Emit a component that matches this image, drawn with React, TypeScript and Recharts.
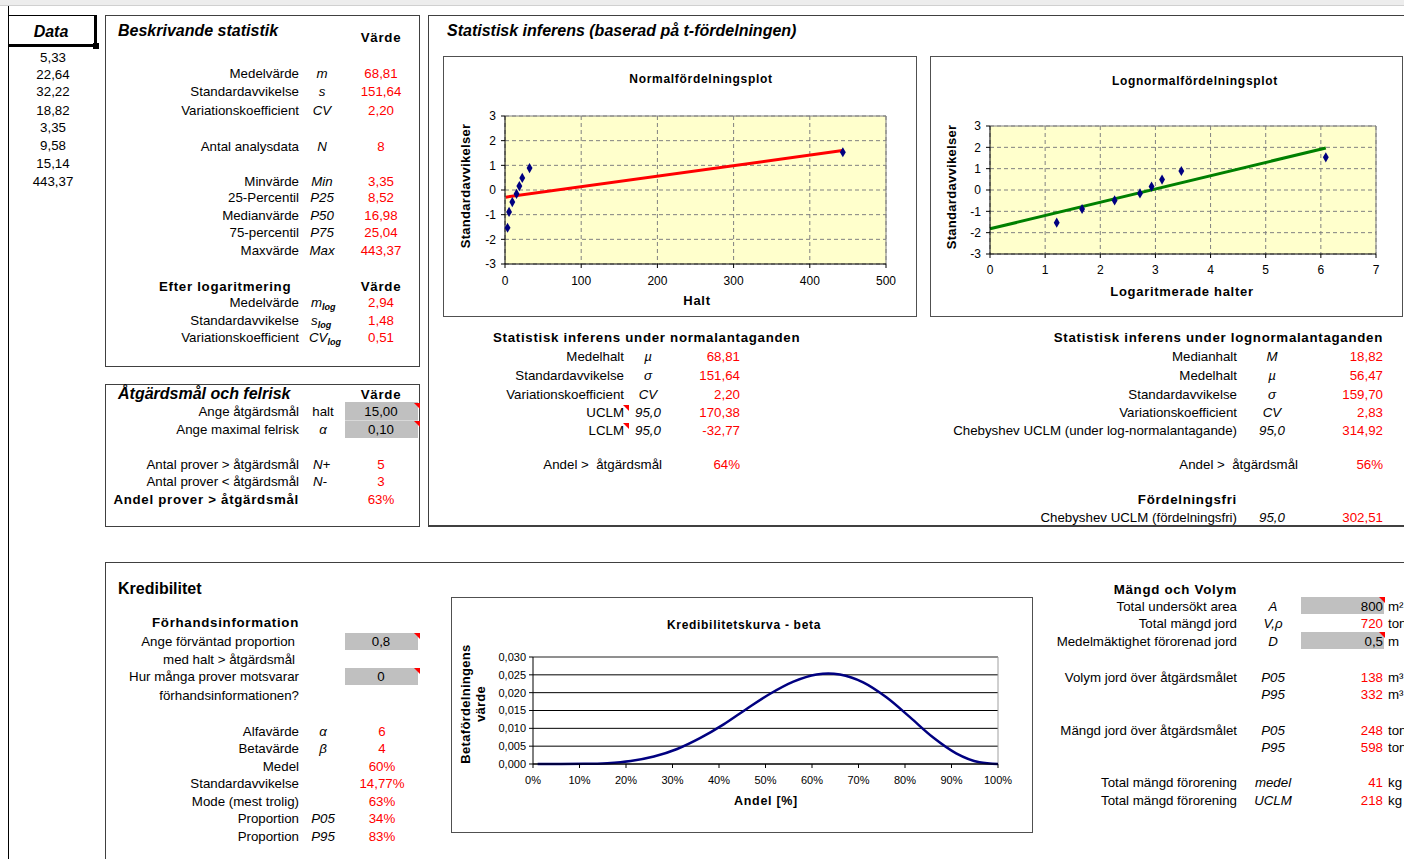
import React from 'react';
import {
  ComposedChart,
  Line,
  Scatter,
  XAxis,
  YAxis,
  ZAxis,
  CartesianGrid,
  ReferenceLine,
} from 'recharts';

const W = 1404;
const H = 859;
const FONT = '"Liberation Sans", Arial, Helvetica, sans-serif';
const RED = '#ff0000';
const NAVY = '#000080';

// kolumnen "Data"
const sampleValues = [5.33, 22.64, 32.22, 18.82, 3.35, 9.58, 15.14, 443.37];

// sannolikhetsplottar (sorterade halter mot standardavvikelser)
const sortedHalt = [3.35, 5.33, 9.58, 15.14, 18.82, 22.64, 32.22, 443.37];
const logHalt = [1.21, 1.67, 2.26, 2.72, 2.93, 3.12, 3.47, 6.09];
const zScores = [-1.53, -0.89, -0.49, -0.16, 0.16, 0.49, 0.89, 1.53];
const normFitX = [1, 443];
const normFitY = [-0.29, 1.6];
const logFitX = [0, 6.09];
const logFitY = [-1.82, 1.97];
const normTicksX = [0, 100, 200, 300, 400, 500];
const logTicksX = [0, 1, 2, 3, 4, 5, 6, 7];
const zTicks = [-3, -2, -1, 0, 1, 2, 3];

// kredibilitetskurva - beta
const betaAndel = [1, 6, 11, 16, 21, 26, 31, 36, 41, 46, 51, 56, 61, 63.5, 66, 71, 76, 81, 86, 91, 96, 100];
const betaVarde = [
  0, 0.0, 0.00004, 0.00024, 0.00083, 0.00208, 0.0042, 0.0073, 0.0111, 0.0155, 0.0197,
  0.0231, 0.0251, 0.0254, 0.0251, 0.0229, 0.0187, 0.0132, 0.0075, 0.003, 0.0005, 0,
];
const betaTicksX = [0, 10, 20, 30, 40, 50, 60, 70, 80, 90, 100];
const betaTicksY = [0, 0.005, 0.01, 0.015, 0.02, 0.025, 0.03];

const sv = (n: number, d = 2) => n.toFixed(d).replace('.', ',');

type TProps = {
  x: number;
  y: number;
  a?: 'l' | 'r' | 'c';
  b?: boolean;
  i?: boolean;
  c?: string;
  s?: number;
  children: React.ReactNode;
};

function T({ x, y, a = 'l', b, i, c, s = 13.3, children }: TProps) {
  const style: React.CSSProperties = {
    position: 'absolute',
    top: y - 9,
    height: 18,
    lineHeight: '18px',
    whiteSpace: 'nowrap',
    fontSize: s,
    fontWeight: b ? 'bold' : 'normal',
    fontStyle: i ? 'italic' : 'normal',
    color: c || '#000',
    // Excel ritar fet text något bredare
    letterSpacing: b && s < 15 ? 0.7 : 0,
  };
  if (a === 'l') style.left = x;
  if (a === 'r') style.right = W - x;
  if (a === 'c') {
    style.left = x - 150;
    style.width = 300;
    style.textAlign = 'center';
  }
  return <div style={style}>{children}</div>;
}

function Box({ l, t, w, h, bw = 1, color = '#404040', bg }: { l: number; t: number; w: number; h: number; bw?: number; color?: string; bg?: string }) {
  return (
    <div
      style={{
        position: 'absolute',
        left: l,
        top: t,
        width: w,
        height: h,
        border: `${bw}px solid ${color}`,
        boxSizing: 'border-box',
        background: bg,
      }}
    />
  );
}

function Mark({ x, y }: { x: number; y: number }) {
  // röd kommentarsmarkering
  return (
    <div
      style={{
        position: 'absolute',
        left: x - 6,
        top: y,
        width: 0,
        height: 0,
        borderTop: `6px solid ${RED}`,
        borderLeft: '6px solid transparent',
      }}
    />
  );
}

function VTitle({ x, y, children }: { x: number; y: number; children: React.ReactNode }) {
  return (
    <div
      style={{
        position: 'absolute',
        left: x - 100,
        top: y - 9,
        width: 200,
        height: 18,
        lineHeight: '18px',
        textAlign: 'center',
        fontWeight: 'bold',
        fontSize: 13,
        letterSpacing: 0.3,
        transform: 'rotate(-90deg)',
        whiteSpace: 'nowrap',
      }}
    >
      {children}
    </div>
  );
}

const tickStyle = { fontSize: 12, fill: '#000', fontFamily: FONT };

function NormalPlot() {
  const pts = sortedHalt.map((x, i) => ({ x, y: zScores[i] }));
  const fit = normFitX.map((x, i) => ({ x, y: normFitY[i] }));
  return (
    <ComposedChart width={474} height={261} margin={{ top: 60, right: 31, bottom: 23, left: 32 }}>
      <CartesianGrid stroke="#808080" strokeDasharray="4 3" fill="#ffffcc" fillOpacity={1} />
      <XAxis
        type="number"
        dataKey="x"
        domain={[0, 500]}
        ticks={normTicksX}
        interval={0}
        height={30}
        tickSize={4}
        tickMargin={8}
        axisLine={{ stroke: '#000' }}
        tickLine={{ stroke: '#000' }}
        tick={tickStyle}
      />
      <YAxis
        type="number"
        dataKey="y"
        domain={[-3, 3]}
        ticks={zTicks}
        interval={0}
        width={30}
        tickSize={4}
        tickMargin={5}
        axisLine={{ stroke: '#000' }}
        tickLine={{ stroke: '#000' }}
        tick={tickStyle}
      />
      <ZAxis range={[30, 30]} />
      <ReferenceLine y={3} stroke="#808080" />
      <ReferenceLine x={500} stroke="#808080" />
      <Line data={fit} dataKey="y" type="linear" stroke={RED} strokeWidth={3} dot={false} isAnimationActive={false} />
      <Scatter data={pts} fill={NAVY} shape="diamond" isAnimationActive={false} />
    </ComposedChart>
  );
}

function LogPlot() {
  const pts = logHalt.map((x, i) => ({ x, y: zScores[i] }));
  const fit = logFitX.map((x, i) => ({ x, y: logFitY[i] }));
  return (
    <ComposedChart width={473} height={261} margin={{ top: 70, right: 27, bottom: 33, left: 30 }}>
      <CartesianGrid stroke="#808080" strokeDasharray="4 3" fill="#ffffcc" fillOpacity={1} />
      <XAxis
        type="number"
        dataKey="x"
        domain={[0, 7]}
        ticks={logTicksX}
        interval={0}
        height={30}
        tickSize={4}
        tickMargin={7}
        axisLine={{ stroke: '#000' }}
        tickLine={{ stroke: '#000' }}
        tick={tickStyle}
      />
      <YAxis
        type="number"
        dataKey="y"
        domain={[-3, 3]}
        ticks={zTicks}
        interval={0}
        width={30}
        tickSize={4}
        tickMargin={5}
        axisLine={{ stroke: '#000' }}
        tickLine={{ stroke: '#000' }}
        tick={tickStyle}
      />
      <ZAxis range={[30, 30]} />
      <ReferenceLine y={3} stroke="#808080" />
      <ReferenceLine x={7} stroke="#808080" />
      <Line data={fit} dataKey="y" type="linear" stroke="#008000" strokeWidth={3} dot={false} isAnimationActive={false} />
      <Scatter data={pts} fill={NAVY} shape="diamond" isAnimationActive={false} />
    </ComposedChart>
  );
}

function BetaPlot() {
  const data = betaAndel.map((x, i) => ({ x, y: betaVarde[i] }));
  return (
    <ComposedChart width={581} height={236} data={data} margin={{ top: 60, right: 34, bottom: 39, left: 42 }}>
      <CartesianGrid stroke="#000" vertical={false} />
      <XAxis
        type="number"
        dataKey="x"
        domain={[0, 100]}
        ticks={betaTicksX}
        interval={0}
        height={30}
        tickSize={4}
        tickMargin={8}
        tickFormatter={(v: number) => `${v}%`}
        axisLine={{ stroke: '#000' }}
        tickLine={{ stroke: '#000' }}
        tick={{ ...tickStyle, fontSize: 11 }}
      />
      <YAxis
        type="number"
        dataKey="y"
        domain={[0, 0.03]}
        ticks={betaTicksY}
        interval={0}
        width={40}
        tickSize={4}
        tickMargin={3}
        tickFormatter={(v: number) => sv(v, 3)}
        axisLine={{ stroke: '#000' }}
        tickLine={{ stroke: '#000' }}
        tick={{ ...tickStyle, fontSize: 11 }}
      />
      <ReferenceLine y={0.03} stroke="#a0a0a0" />
      <ReferenceLine x={100} stroke="#a0a0a0" />
      <Line dataKey="y" type="monotone" stroke={NAVY} strokeWidth={2.5} dot={false} isAnimationActive={false} />
    </ComposedChart>
  );
}

function Row({ y, label, sym, val, lx, sx, vx, symLeft }: { y: number; label: string; sym?: React.ReactNode; val: string; lx: number; sx: number; vx: number; symLeft?: boolean }) {
  return (
    <>
      <T x={lx} y={y} a="r">{label}</T>
      {sym != null && (
        <T x={sx} y={y} a={symLeft ? 'l' : 'c'} i>
          {sym}
        </T>
      )}
      <T x={vx} y={y} a="c" c={RED}>{val}</T>
    </>
  );
}

const sub = (s: string) => <span style={{ fontSize: 9, verticalAlign: '-3px', fontWeight: 'bold' }}>{s}</span>;

export default function App() {
  const valueRows: [number, string, string, string][] = [
    [74, 'Medelvärde', 'm', '68,81'],
    [92, 'Standardavvikelse', 's', '151,64'],
    [111, 'Variationskoefficient', 'CV', '2,20'],
    [147, 'Antal analysdata', 'N', '8'],
    [182, 'Minvärde', 'Min', '3,35'],
    [198, '25-Percentil', 'P25', '8,52'],
    [216, 'Medianvärde', 'P50', '16,98'],
    [233, '75-percentil', 'P75', '25,04'],
    [251, 'Maxvärde', 'Max', '443,37'],
  ];
  const dataY = [58, 75, 92, 111, 128, 146, 164, 182];

  const normRows: [number, string, string, string][] = [
    [357, 'Medelhalt', 'µ', '68,81'],
    [376, 'Standardavvikelse', 'σ', '151,64'],
    [395, 'Variationskoefficient', 'CV', '2,20'],
    [413, 'UCLM', '95,0', '170,38'],
    [431, 'LCLM', '95,0', '-32,77'],
  ];
  const logRows: [number, string, string, string][] = [
    [357, 'Medianhalt', 'M', '18,82'],
    [376, 'Medelhalt', 'µ', '56,47'],
    [395, 'Standardavvikelse', 'σ', '159,70'],
    [413, 'Variationskoefficient', 'CV', '2,83'],
    [431, 'Chebyshev UCLM (under log-normalantagande)', '95,0', '314,92'],
  ];
  const kredRows: [number, string, string, string][] = [
    [732, 'Alfavärde', 'α', '6'],
    [749, 'Betavärde', 'β', '4'],
    [767, 'Medel', '', '60%'],
    [784, 'Standardavvikelse', '', '14,77%'],
    [802, 'Mode (mest trolig)', '', '63%'],
    [819, 'Proportion', 'P05', '34%'],
    [837, 'Proportion', 'P95', '83%'],
  ];
  const mangdRows: [number, string, string, string, string][] = [
    [624, 'Total mängd jord', 'V,ρ', '720', 'ton'],
    [678, 'Volym jord över åtgärdsmålet', 'P05', '138', 'm³'],
    [695, '', 'P95', '332', 'm³'],
    [731, 'Mängd jord över åtgärdsmålet', 'P05', '248', 'ton'],
    [748, '', 'P95', '598', 'ton'],
    [783, 'Total mängd förorening', 'medel', '41', 'kg'],
    [801, 'Total mängd förorening', 'UCLM', '218', 'kg'],
  ];

  return (
    <div
      style={{
        position: 'absolute',
        left: 0,
        top: 0,
        width: W,
        height: H,
        overflow: 'hidden',
        background: '#fff',
        fontFamily: FONT,
        fontSize: 13.3,
        color: '#000',
      }}
    >
      {/* kalkylbladets ram */}
      <div style={{ position: 'absolute', left: 0, top: 0, width: W, height: 5, background: '#ededed', borderBottom: '1px solid #d0d0d0' }} />
      <div style={{ position: 'absolute', left: 8, top: 6, width: 1, height: H, background: '#000' }} />

      {/* Data */}
      <div style={{ position: 'absolute', left: 8, top: 15, width: 89, height: 32, borderTop: '1px solid #000', borderRight: '3px solid #000', borderBottom: '3px solid #000', boxSizing: 'border-box' }} />
      <div style={{ position: 'absolute', left: 93, top: 43, width: 6, height: 6, background: '#000' }} />
      <T x={51} y={32} a="c" b i s={16}>Data</T>
      {sampleValues.map((v, k) => (
        <T key={k} x={53} y={dataY[k]} a="c">{sv(v)}</T>
      ))}

      {/* Beskrivande statistik */}
      <Box l={105} t={15} w={315} h={352} />
      <T x={118} y={31} b i s={16}>Beskrivande statistik</T>
      <T x={381} y={38} a="c" b>Värde</T>
      {valueRows.map(([y, l, s, v]) => (
        <Row key={l} y={y} label={l} sym={s} val={v} lx={299} sx={322} vx={381} />
      ))}
      <T x={159} y={287} b>Efter logaritmering</T>
      <T x={381} y={287} a="c" b>Värde</T>
      <Row y={303} label="Medelvärde" sym={<>m{sub('log')}</>} val="2,94" lx={299} sx={311} vx={381} symLeft />
      <Row y={321} label="Standardavvikelse" sym={<>s{sub('log')}</>} val="1,48" lx={299} sx={311} vx={381} symLeft />
      <Row y={338} label="Variationskoefficient" sym={<>CV{sub('log')}</>} val="0,51" lx={299} sx={309} vx={381} symLeft />

      {/* Åtgärdsmål och felrisk */}
      <Box l={105} t={384} w={315} h={143} />
      <div style={{ position: 'absolute', left: 345, top: 402, width: 73, height: 36, background: '#c0c0c0' }} />
      <div style={{ position: 'absolute', left: 345, top: 420, width: 73, height: 1, background: '#d8d8d8' }} />
      <Mark x={420} y={403} />
      <Mark x={420} y={421} />
      <T x={118} y={394} b i s={16}>Åtgärdsmål och felrisk</T>
      <T x={381} y={395} a="c" b>Värde</T>
      <T x={299} y={412} a="r">Ange åtgärdsmål</T>
      <T x={323} y={412} a="c">halt</T>
      <T x={381} y={412} a="c">15,00</T>
      <T x={299} y={430} a="r">Ange maximal felrisk</T>
      <T x={323} y={430} a="c" i>α</T>
      <T x={381} y={430} a="c">0,10</T>
      <T x={299} y={465} a="r">Antal prover &gt; åtgärdsmål</T>
      <T x={313} y={465} i>N+</T>
      <T x={381} y={465} a="c" c={RED}>5</T>
      <T x={299} y={482} a="r">Antal prover &lt; åtgärdsmål</T>
      <T x={313} y={482} i>N-</T>
      <T x={381} y={482} a="c" c={RED}>3</T>
      <T x={299} y={500} a="r" b>Andel prover &gt; åtgärdsmål</T>
      <T x={381} y={500} a="c" c={RED}>63%</T>

      {/* Statistisk inferens */}
      <div style={{ position: 'absolute', left: 428, top: 15, width: 1000, height: 512, borderLeft: '1px solid #404040', borderTop: '1px solid #404040', borderBottom: '2px solid #404040', boxSizing: 'border-box' }} />
      <T x={447} y={31} b i s={16}>Statistisk inferens (baserad på t-fördelningen)</T>

      {/* Normalfördelningsplot */}
      <div style={{ position: 'absolute', left: 443, top: 56 }}>
        <NormalPlot />
      </div>
      <Box l={443} t={56} w={474} h={261} color="#505050" />
      <T x={701} y={79} a="c" b s={12}>Normalfördelningsplot</T>
      <T x={697} y={301} a="c" b s={13}>Halt</T>
      <VTitle x={466} y={186}>Standardavvikelser</VTitle>

      {/* Lognormalfördelningsplot */}
      <div style={{ position: 'absolute', left: 930, top: 56 }}>
        <LogPlot />
      </div>
      <Box l={930} t={56} w={473} h={261} color="#505050" />
      <T x={1195} y={81} a="c" b s={12}>Lognormalfördelningsplot</T>
      <T x={1182} y={292} a="c" b s={13}>Logaritmerade halter</T>
      <VTitle x={952} y={187}>Standardavvikelser</VTitle>

      {/* inferens under normalantaganden */}
      <T x={493} y={338} b>Statistisk inferens under normalantaganden</T>
      {normRows.map(([y, l, s, v]) => (
        <React.Fragment key={l}>
          <T x={624} y={y} a="r">{l}</T>
          <T x={648} y={y} a="c" i>{s}</T>
          <T x={740} y={y} a="r" c={RED}>{v}</T>
        </React.Fragment>
      ))}
      <Mark x={629} y={405} />
      <Mark x={629} y={423} />
      <T x={662} y={465} a="r">Andel &gt;&nbsp; åtgärdsmål</T>
      <T x={740} y={465} a="r" c={RED}>64%</T>

      {/* inferens under lognormalantaganden */}
      <T x={1383} y={338} a="r" b>Statistisk inferens under lognormalantaganden</T>
      {logRows.map(([y, l, s, v]) => (
        <React.Fragment key={l}>
          <T x={1237} y={y} a="r">{l}</T>
          <T x={1272} y={y} a="c" i>{s}</T>
          <T x={1383} y={y} a="r" c={RED}>{v}</T>
        </React.Fragment>
      ))}
      <T x={1298} y={465} a="r">Andel &gt;&nbsp; åtgärdsmål</T>
      <T x={1383} y={465} a="r" c={RED}>56%</T>
      <T x={1237} y={500} a="r" b>Fördelningsfri</T>
      <T x={1237} y={518} a="r">Chebyshev UCLM (fördelningsfri)</T>
      <T x={1272} y={518} a="c" i>95,0</T>
      <T x={1383} y={518} a="r" c={RED}>302,51</T>

      {/* Kredibilitet */}
      <div style={{ position: 'absolute', left: 105, top: 562, width: 1400, height: 400, borderLeft: '1px solid #404040', borderTop: '1px solid #404040', boxSizing: 'border-box' }} />
      <T x={118} y={589} b s={16}>Kredibilitet</T>
      <T x={299} y={623} a="r" b>Förhandsinformation</T>
      <T x={295} y={642} a="r">Ange förväntad proportion</T>
      <T x={295} y={660} a="r">med halt &gt; åtgärdsmål</T>
      <T x={299} y={677} a="r">Hur många prover motsvarar</T>
      <T x={299} y={696} a="r">förhandsinformationen?</T>
      <div style={{ position: 'absolute', left: 345, top: 633, width: 73, height: 17, background: '#c0c0c0' }} />
      <div style={{ position: 'absolute', left: 345, top: 668, width: 73, height: 17, background: '#c0c0c0' }} />
      <Mark x={420} y={633} />
      <Mark x={420} y={668} />
      <T x={381} y={642} a="c">0,8</T>
      <T x={381} y={677} a="c">0</T>
      {kredRows.map(([y, l, s, v]) => (
        <React.Fragment key={y}>
          <T x={299} y={y} a="r">{l}</T>
          {s && <T x={323} y={y} a="c" i>{s}</T>}
          <T x={382} y={y} a="c" c={RED}>{v}</T>
        </React.Fragment>
      ))}

      {/* Kredibilitetskurva - beta */}
      <div style={{ position: 'absolute', left: 451, top: 597 }}>
        <BetaPlot />
      </div>
      <Box l={451} t={597} w={582} h={236} color="#505050" />
      <T x={744} y={625} a="c" b s={12}>Kredibilitetskurva - beta</T>
      <T x={766} y={801} a="c" b s={12.5}>Andel [%]</T>
      <VTitle x={466} y={704}>Betafördelningens</VTitle>
      <VTitle x={481} y={704}>värde</VTitle>

      {/* Mängd och Volym */}
      <T x={1237} y={590} a="r" b>Mängd och Volym</T>
      <div style={{ position: 'absolute', left: 1301, top: 597, width: 83, height: 17, background: '#c0c0c0' }} />
      <div style={{ position: 'absolute', left: 1301, top: 632, width: 83, height: 17, background: '#c0c0c0' }} />
      <Mark x={1385} y={597} />
      <Mark x={1385} y={632} />
      <T x={1237} y={607} a="r">Total undersökt area</T>
      <T x={1273} y={607} a="c" i>A</T>
      <T x={1383} y={607} a="r">800</T>
      <T x={1388} y={607}>m²</T>
      <T x={1237} y={642} a="r">Medelmäktighet förorenad jord</T>
      <T x={1273} y={642} a="c" i>D</T>
      <T x={1383} y={642} a="r">0,5</T>
      <T x={1388} y={642}>m</T>
      {mangdRows.map(([y, l, s, v, u]) => (
        <React.Fragment key={y}>
          {l && <T x={1237} y={y} a="r">{l}</T>}
          <T x={1273} y={y} a="c" i>{s}</T>
          <T x={1383} y={y} a="r" c={RED}>{v}</T>
          <T x={1388} y={y}>{u}</T>
        </React.Fragment>
      ))}
    </div>
  );
}
